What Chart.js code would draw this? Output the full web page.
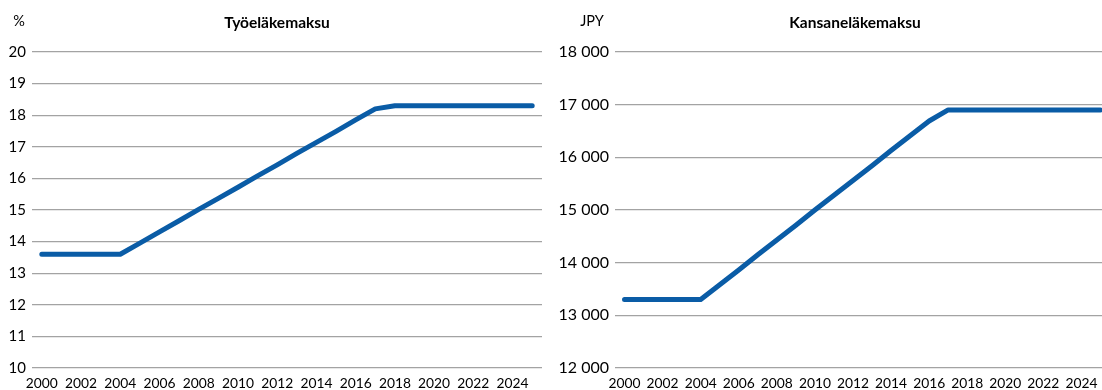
<!DOCTYPE html>
<html>
<head>
<meta charset="utf-8">
<script src="https://cdn.jsdelivr.net/npm/chart.js@4/dist/chart.umd.min.js"></script>
<style>
  html, body { margin: 0; padding: 0; background: #fff; overflow: hidden; }
  body { width: 1102px; height: 390px; position: relative; }
  .panel { position: absolute; top: 0; height: 390px; }
  #leftWrap { left: 0; width: 550px; }
  #rightWrap { left: 550px; width: 560px; }
</style>
</head>
<body>
<div class="panel" id="leftWrap"><canvas id="tyelChart"></canvas></div>
<div class="panel" id="rightWrap"><canvas id="kelaChart"></canvas></div>
<script>
// Years 2000-2025
const years = [
  2000, 2001, 2002, 2003, 2004, 2005, 2006, 2007, 2008, 2009, 2010, 2011, 2012,
  2013, 2014, 2015, 2016, 2017, 2018, 2019, 2020, 2021, 2022, 2023, 2024, 2025,
];

// Työeläkemaksu, %
const tyelRate = [
  13.6, 13.6, 13.6, 13.6, 13.6, 13.95, 14.31, 14.66, 15.02, 15.37, 15.72, 16.08,
  16.43, 16.79, 17.14, 17.49, 17.85, 18.2, 18.3, 18.3, 18.3, 18.3, 18.3, 18.3,
  18.3, 18.3,
];

// Kansaneläkemaksu, JPY
const kelaFee = [
  13300, 13300, 13300, 13300, 13300, 13580, 13860, 14150, 14430, 14710, 15000,
  15280, 15560, 15840, 16130, 16410, 16690, 16900, 16900, 16900, 16900, 16900,
  16900, 16900, 16900, 16900,
];

const tyelTicks = { min: 10, max: 20, step: 1 };
const kelaTicks = { min: 12000, max: 18000, step: 1000 };

const lineColor = "#0a5ca6";
const gridColor = "#a3a3a3";
const fontFamily = "Lato, 'Liberation Sans', sans-serif";

function formatThousands(v) {
  return String(v).replace(/\B(?=(\d{3})+(?!\d))/g, " ");
}

// Draws the panel title and the unit label above the y axis
const headerPlugin = {
  id: "header",
  afterDraw(chart, args, opts) {
    const c = chart.ctx;
    c.save();
    c.fillStyle = "#000";
    c.textBaseline = "middle";
    c.textAlign = "center";
    c.font = "bold 15.5px " + fontFamily;
    c.fillText(opts.title, opts.titleX, 23);
    c.font = "14.5px " + fontFamily;
    c.fillText(opts.unit, opts.unitX, 21);
    c.restore();
  },
};

function makeChart(canvasId, values, range, header, axisWidth, padRight, yFontSize, tickFmt) {
  const ctx = document.getElementById(canvasId).getContext("2d");
  return new Chart(ctx, {
    type: "line",
    data: {
      labels: years,
      datasets: [
        {
          data: values,
          borderColor: lineColor,
          borderWidth: 5,
          borderCapStyle: "round",
          borderJoinStyle: "round",
          pointRadius: 0,
          tension: 0,
          fill: false,
        },
      ],
    },
    options: {
      responsive: true,
      maintainAspectRatio: false,
      animation: false,
      layout: { padding: { top: 52, right: padRight, left: 0, bottom: 0 } },
      scales: {
        x: {
          type: "category",
          offset: true,
          grid: { display: false, drawTicks: false },
          border: { display: false },
          afterFit: (scale) => { scale.height = 22; },
          ticks: {
            autoSkip: false,
            maxRotation: 0,
            minRotation: 0,
            padding: 7,
            color: "#000",
            font: { family: fontFamily, size: 13.8 },
            callback: function (value, index) {
              return index % 2 === 0 ? this.getLabelForValue(value) : "";
            },
          },
        },
        y: {
          min: range.min,
          max: range.max,
          afterFit: (scale) => { scale.width = axisWidth; },
          grid: { color: gridColor, lineWidth: 1.2, drawTicks: false },
          border: { display: false },
          ticks: {
            stepSize: range.step,
            padding: 6,
            color: "#000",
            font: { family: fontFamily, size: yFontSize },
            callback: tickFmt,
          },
        },
      },
      plugins: {
        legend: { display: false },
        tooltip: { enabled: false },
        header: header,
      },
    },
    plugins: [headerPlugin],
  });
}

document.addEventListener("DOMContentLoaded", function () {
  makeChart("tyelChart", tyelRate, tyelTicks,
    { title: "Työeläkemaksu", titleX: 277, unit: "%", unitX: 19 },
    32, 8, 15, (v) => v);

  makeChart("kelaChart", kelaFee, kelaTicks,
    { title: "Kansaneläkemaksu", titleX: 305, unit: "JPY", unitX: 42 },
    65, 0, 16, (v) => formatThousands(v));
});
</script>
</body>
</html>
